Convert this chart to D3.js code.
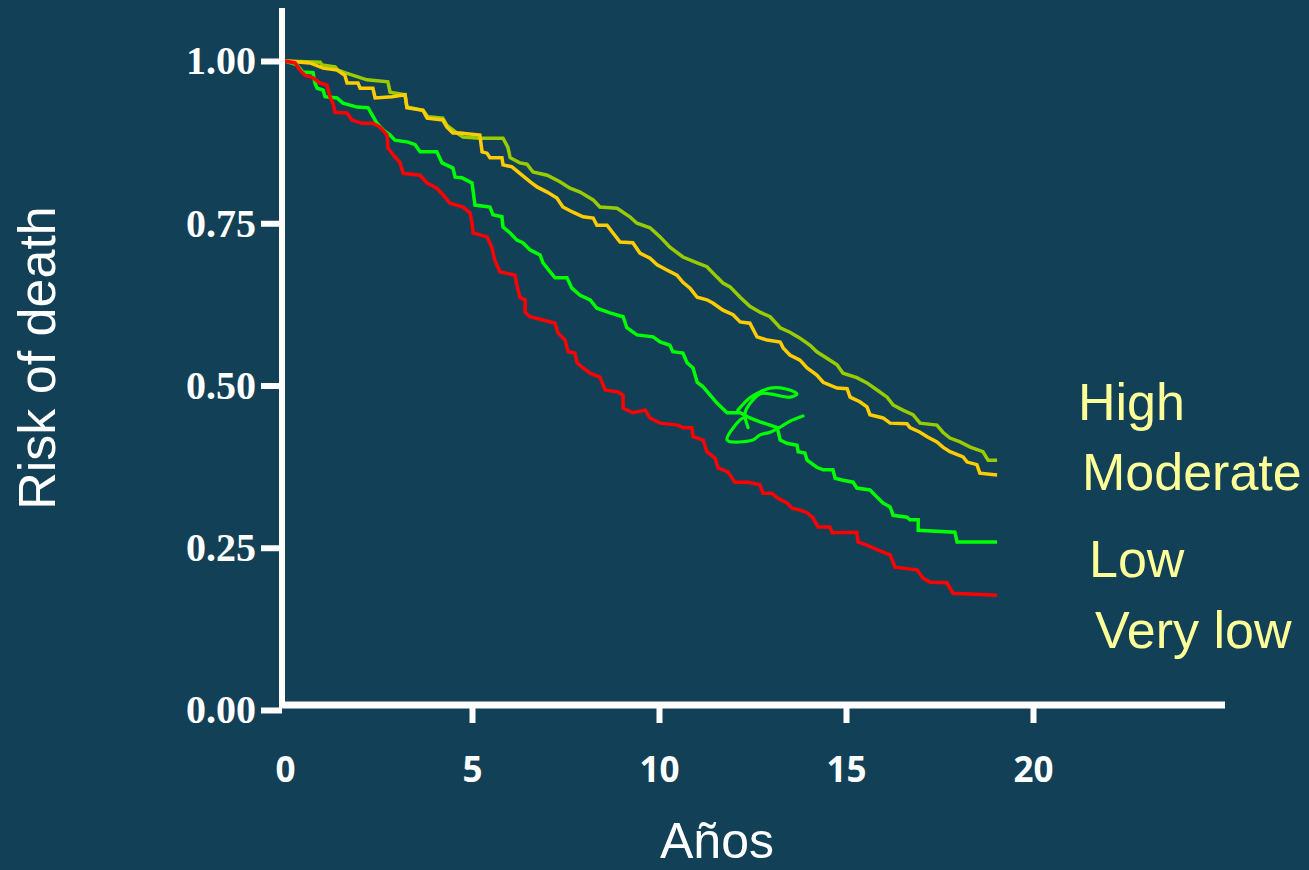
<!DOCTYPE html>
<html>
<head>
<meta charset="utf-8">
<script src="https://cdn.jsdelivr.net/npm/d3@7"></script>
<style>
  html, body { margin: 0; padding: 0; background: #114057; }
  svg { display: block; }
</style>
</head>
<body>
<svg id="chart" width="1309" height="870"></svg>
<script>
// ---------- data ----------
const seriesNames = ["High", "Moderate", "Low", "Very low"];
const seriesColors = ["#99cc00", "#ffcc00", "#00ff00", "#ff0000"];
const xTicks = [0, 5, 10, 15, 20];
const yTicks = [0, 0.25, 0.5, 0.75, 1];
const yTickLabels = ["0.00", "0.25", "0.50", "0.75", "1.00"];
const xTitle = "Años";
const yTitle = "Risk of death";

// [years, survival]
const high = [[0,1.0],[0.94,0.998],[0.99,0.994],[1.34,0.991],[1.42,0.986],[1.60,0.982],[2.19,0.971],[2.75,0.968],[2.81,0.952],[3.21,0.948],[3.26,0.929],[3.69,0.924],[3.82,0.914],[4.22,0.912],[4.33,0.901],[4.55,0.891],[4.76,0.883],[5.21,0.881],[5.83,0.881],[5.96,0.867],[6.02,0.851],[6.28,0.843],[6.47,0.841],[6.63,0.829],[7.01,0.824],[7.35,0.814],[7.62,0.804],[7.89,0.798],[8.24,0.786],[8.42,0.775],[8.88,0.773],[9.22,0.760],[9.41,0.750],[9.76,0.743],[10.03,0.729],[10.29,0.713],[10.64,0.698],[11.02,0.689],[11.28,0.683],[11.55,0.667],[11.71,0.658],[11.90,0.652],[12.17,0.636],[12.43,0.622],[12.70,0.613],[12.97,0.606],[13.24,0.589],[13.50,0.582],[13.77,0.573],[14.04,0.562],[14.22,0.552],[14.49,0.542],[14.76,0.532],[14.92,0.519],[15.29,0.512],[15.56,0.504],[15.83,0.493],[16.10,0.482],[16.26,0.470],[16.52,0.462],[16.79,0.455],[16.98,0.442],[17.43,0.439],[17.59,0.428],[17.78,0.419],[18.05,0.413],[18.32,0.405],[18.66,0.398],[18.80,0.385],[19.04,0.385]];
const moderate = [[0,1.0],[0.67,0.997],[1.02,0.989],[1.39,0.986],[1.60,0.978],[1.66,0.966],[1.95,0.966],[2.01,0.958],[2.35,0.958],[2.41,0.943],[2.86,0.945],[3.21,0.948],[3.26,0.928],[3.69,0.924],[3.80,0.912],[4.22,0.909],[4.33,0.898],[4.49,0.889],[4.68,0.889],[5.21,0.886],[5.27,0.860],[5.40,0.858],[5.48,0.851],[5.80,0.851],[5.83,0.840],[6.07,0.837],[6.28,0.827],[6.55,0.814],[6.74,0.806],[7.01,0.798],[7.27,0.789],[7.43,0.775],[7.70,0.767],[7.97,0.760],[8.24,0.758],[8.34,0.747],[8.61,0.747],[8.77,0.735],[8.96,0.721],[9.30,0.720],[9.49,0.704],[9.76,0.696],[9.95,0.686],[10.21,0.678],[10.48,0.670],[10.64,0.659],[10.83,0.650],[11.02,0.636],[11.28,0.632],[11.44,0.627],[11.71,0.616],[11.98,0.609],[12.17,0.598],[12.43,0.596],[12.62,0.575],[12.89,0.570],[13.24,0.567],[13.32,0.558],[13.50,0.547],[13.77,0.539],[13.96,0.527],[14.22,0.516],[14.39,0.505],[14.76,0.496],[15.03,0.495],[15.11,0.482],[15.37,0.475],[15.56,0.467],[15.64,0.455],[15.99,0.450],[16.18,0.442],[16.63,0.441],[16.71,0.435],[16.98,0.428],[17.17,0.421],[17.43,0.413],[17.59,0.405],[17.78,0.398],[18.13,0.390],[18.24,0.382],[18.50,0.378],[18.58,0.365],[19.04,0.362]];
const low = [[0,1.0],[0.32,0.994],[0.48,0.983],[0.75,0.982],[0.80,0.966],[0.86,0.958],[1.02,0.955],[1.07,0.945],[1.39,0.943],[1.55,0.935],[1.93,0.929],[2.22,0.928],[2.33,0.917],[2.46,0.904],[2.62,0.894],[2.81,0.886],[2.94,0.878],[3.29,0.875],[3.48,0.871],[3.61,0.860],[4.06,0.860],[4.20,0.843],[4.49,0.835],[4.55,0.821],[4.73,0.820],[5.00,0.812],[5.08,0.778],[5.48,0.775],[5.56,0.763],[5.80,0.760],[5.83,0.744],[6.02,0.735],[6.20,0.724],[6.36,0.720],[6.55,0.709],[6.82,0.701],[6.90,0.689],[7.09,0.675],[7.22,0.666],[7.54,0.666],[7.67,0.650],[7.89,0.639],[8.16,0.632],[8.34,0.619],[8.69,0.612],[9.04,0.606],[9.14,0.589],[9.41,0.578],[9.84,0.575],[10.03,0.567],[10.29,0.562],[10.37,0.552],[10.64,0.550],[10.75,0.535],[10.91,0.527],[11.02,0.505],[11.18,0.498],[11.55,0.473],[11.82,0.458],[12.17,0.458],[12.43,0.450],[12.70,0.444],[12.97,0.439],[13.16,0.435],[13.24,0.416],[13.42,0.411],[13.69,0.408],[13.72,0.398],[13.90,0.396],[13.96,0.385],[14.22,0.374],[14.39,0.370],[14.65,0.370],[14.71,0.357],[14.92,0.354],[15.19,0.351],[15.29,0.342],[15.64,0.339],[15.83,0.328],[15.99,0.319],[16.18,0.313],[16.26,0.300],[16.63,0.297],[16.71,0.293],[16.93,0.293],[16.93,0.277],[17.91,0.274],[17.97,0.259],[19.04,0.259]];
const veryLow = [[0,1.0],[0.27,0.997],[0.40,0.986],[0.53,0.978],[0.75,0.974],[0.94,0.966],[1.12,0.963],[1.20,0.945],[1.28,0.935],[1.34,0.921],[1.66,0.920],[1.79,0.909],[2.06,0.904],[2.35,0.904],[2.54,0.898],[2.73,0.886],[2.75,0.866],[2.94,0.852],[3.07,0.844],[3.16,0.827],[3.61,0.824],[3.80,0.812],[4.06,0.804],[4.22,0.794],[4.41,0.781],[4.76,0.775],[4.95,0.766],[5.00,0.750],[5.03,0.735],[5.40,0.729],[5.53,0.713],[5.61,0.693],[5.75,0.675],[6.15,0.670],[6.20,0.655],[6.28,0.636],[6.42,0.632],[6.42,0.613],[6.55,0.606],[6.90,0.601],[7.22,0.596],[7.30,0.581],[7.49,0.570],[7.57,0.552],[7.75,0.550],[7.81,0.535],[7.97,0.527],[8.16,0.519],[8.42,0.513],[8.56,0.493],[8.90,0.490],[9.04,0.485],[9.04,0.465],[9.30,0.458],[9.63,0.462],[9.76,0.450],[10.03,0.442],[10.51,0.439],[10.64,0.435],[10.88,0.435],[10.91,0.421],[11.18,0.416],[11.28,0.398],[11.50,0.388],[11.58,0.373],[11.84,0.367],[12.03,0.351],[12.38,0.351],[12.70,0.347],[12.78,0.334],[13.02,0.334],[13.16,0.327],[13.42,0.319],[13.56,0.311],[13.77,0.308],[13.96,0.304],[14.12,0.296],[14.25,0.282],[14.57,0.282],[14.63,0.273],[15.29,0.274],[15.32,0.259],[15.56,0.254],[15.83,0.247],[16.18,0.239],[16.31,0.220],[16.90,0.216],[17.06,0.203],[17.25,0.197],[17.70,0.196],[17.86,0.180],[19.04,0.177]];
// hand-drawn green scribble on the slide
const scribble = [[12.11,0.462],[12.43,0.481],[12.70,0.490],[12.97,0.496],[13.37,0.495],[13.69,0.487],[13.50,0.482],[12.97,0.487],[12.70,0.487],[12.30,0.458],[12.38,0.435],[12.27,0.450],[11.82,0.416],[12.51,0.416],[12.70,0.424],[12.97,0.428],[13.24,0.436],[13.50,0.445],[13.85,0.453]];

const seriesData = [high, moderate, low, veryLow];

// ---------- drawing ----------
const svg = d3.select("#chart");
svg.append("rect").attr("width", 1309).attr("height", 870).attr("fill", "#114057");

const x = d3.scaleLinear().domain([0, 20]).range([285, 1033]);
const y = d3.scaleLinear().domain([0, 1]).range([710, 61]);

const axisX = 282, axisY = 705;

// curves
const line = d3.line().x(d => x(d[0])).y(d => y(d[1]));
seriesData.forEach((s, i) => {
  svg.append("path").datum(s)
    .attr("d", line)
    .attr("fill", "none")
    .attr("stroke", seriesColors[i])
    .attr("stroke-width", 3.5)
    .attr("stroke-linejoin", "miter");
});
svg.append("path").datum(scribble)
  .attr("d", d3.line().x(d => x(d[0])).y(d => y(d[1])).curve(d3.curveCatmullRom.alpha(0.5)))
  .attr("fill", "none").attr("stroke", "#00ff00").attr("stroke-width", 3.2)
  .attr("stroke-linejoin", "round").attr("stroke-linecap", "round");

// y axis
const yAxis = d3.axisLeft(y).tickValues(yTicks)
  .tickFormat((d, i) => yTickLabels[i]).tickSize(21).tickPadding(5);
const gy = svg.append("g").attr("transform", `translate(${axisX},0)`).call(yAxis);
gy.select(".domain").remove();
gy.selectAll(".tick line").attr("stroke", "#fff").attr("stroke-width", 6);
gy.selectAll(".tick text").attr("fill", "#fff")
  .style("font-family", "'Liberation Serif', 'Times New Roman', serif")
  .style("font-weight", "bold").style("font-size", "40px");

// x axis
const xAxis = d3.axisBottom(x).tickValues(xTicks).tickSize(18).tickPadding(34);
const gx = svg.append("g").attr("transform", `translate(0,${axisY})`).call(xAxis);
gx.select(".domain").remove();
gx.selectAll(".tick line").attr("stroke", "#fff").attr("stroke-width", 6)
  .attr("display", d => d === 0 ? "none" : null);
gx.selectAll(".tick text").attr("fill", "#fff")
  .style("font-family", "'Noto Sans', 'DejaVu Sans', sans-serif")
  .style("font-weight", "bold").style("font-size", "35px");

// axis lines
svg.append("line").attr("x1", axisX).attr("x2", axisX).attr("y1", 8).attr("y2", axisY + 3)
  .attr("stroke", "#fff").attr("stroke-width", 6);
svg.append("line").attr("x1", axisX - 3).attr("x2", 1225).attr("y1", axisY).attr("y2", axisY)
  .attr("stroke", "#fff").attr("stroke-width", 7);

// titles
svg.append("text").text(xTitle)
  .attr("x", 717).attr("y", 858).attr("text-anchor", "middle")
  .attr("fill", "#fff").style("font-family", "'Liberation Sans', Arial, sans-serif")
  .style("font-size", "50px");
svg.append("text").text(yTitle)
  .attr("transform", "translate(55,358) rotate(-90)").attr("text-anchor", "middle")
  .attr("fill", "#fff").style("font-family", "'Liberation Sans', Arial, sans-serif")
  .style("font-size", "52px");

// series labels
const labelPos = [[1078, 420], [1082, 490], [1089, 577], [1095, 648]];
seriesNames.forEach((n, i) => {
  svg.append("text").text(n)
    .attr("x", labelPos[i][0]).attr("y", labelPos[i][1])
    .attr("fill", "#ffff99")
    .style("font-family", "'Liberation Sans', Arial, sans-serif")
    .style("font-size", "52px");
});
</script>
</body>
</html>
